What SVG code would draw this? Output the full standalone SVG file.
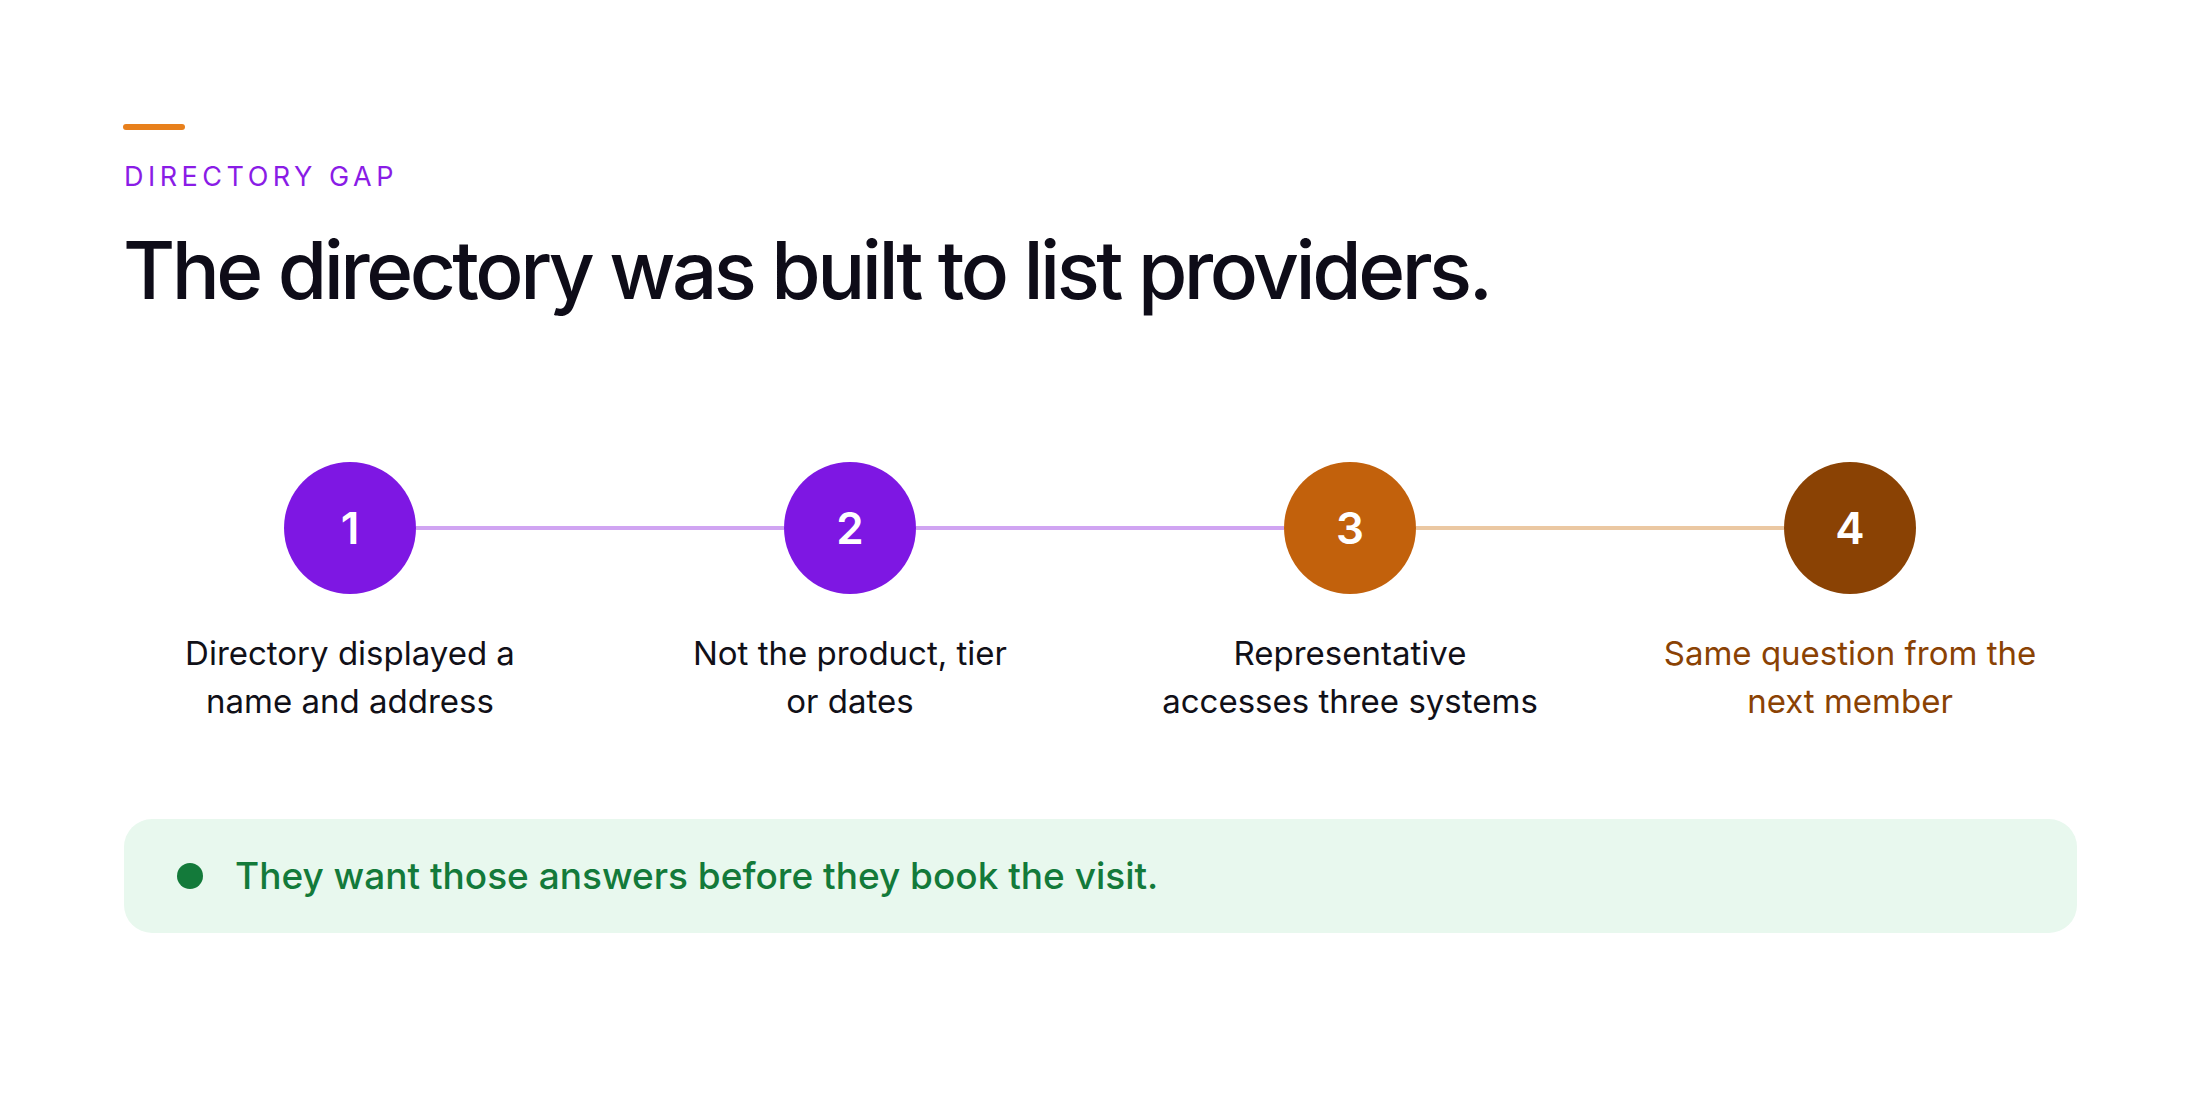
<svg xmlns="http://www.w3.org/2000/svg" width="2200" height="1100" viewBox="0 0 2200 1100">
<style>
text{font-family:Inter,"Noto Sans","Liberation Sans",sans-serif}
.num{font-size:44px;font-weight:600;fill:#fff;text-anchor:middle}
.lbl{font-size:33px;fill:#111018;text-anchor:middle}
</style>
<rect width="2200" height="1100" fill="#fff"/>
<rect x="123" y="124" width="62" height="6" rx="3" fill="#E8801C"/>
<text x="124" y="186" font-size="27" letter-spacing="4.5" fill="#8A1CE6">DIRECTORY GAP</text>
<text x="123" y="299" font-size="80" font-weight="500" letter-spacing="-3.5" fill="#0E0C18">The directory was built to list providers.</text>
<g id="connectors">
<line x1="416" y1="528" x2="784" y2="528" stroke="#D0A4F2" stroke-width="4"/>
<line x1="916" y1="528" x2="1284" y2="528" stroke="#D0A4F2" stroke-width="4"/>
<line x1="1416" y1="528" x2="1784" y2="528" stroke="#EBC8A2" stroke-width="4"/>
</g>
<g id="n1"><circle cx="350" cy="528" r="66" fill="#7E17E3"/><text class="num" x="350" y="544">1</text>
<text class="lbl" x="350" y="665">Directory displayed a</text><text class="lbl" x="350" y="713">name and address</text></g>
<g id="n2"><circle cx="850" cy="528" r="66" fill="#7E17E3"/><text class="num" x="850" y="544">2</text>
<text class="lbl" x="850" y="665">Not the product, tier</text><text class="lbl" x="850" y="713">or dates</text></g>
<g id="n3"><circle cx="1350" cy="528" r="66" fill="#C2610C"/><text class="num" x="1350" y="544">3</text>
<text class="lbl" x="1350" y="665">Representative</text><text class="lbl" x="1350" y="713">accesses three systems</text></g>
<g id="n4"><circle cx="1850" cy="528" r="66" fill="#8A4204"/><text class="num" x="1850" y="544">4</text>
<text class="lbl" x="1850" y="665" style="fill:#8A4204">Same question from the</text><text class="lbl" x="1850" y="713" style="fill:#8A4204">next member</text></g>
<g id="callout">
<rect x="124" y="819" width="1953" height="114" rx="28" fill="#E8F8EE"/>
<circle cx="190" cy="876" r="13" fill="#137A3A"/>
<text x="235" y="889" font-size="37" font-weight="500" fill="#137A3A">They want those answers before they book the visit.</text>
</g>
</svg>
